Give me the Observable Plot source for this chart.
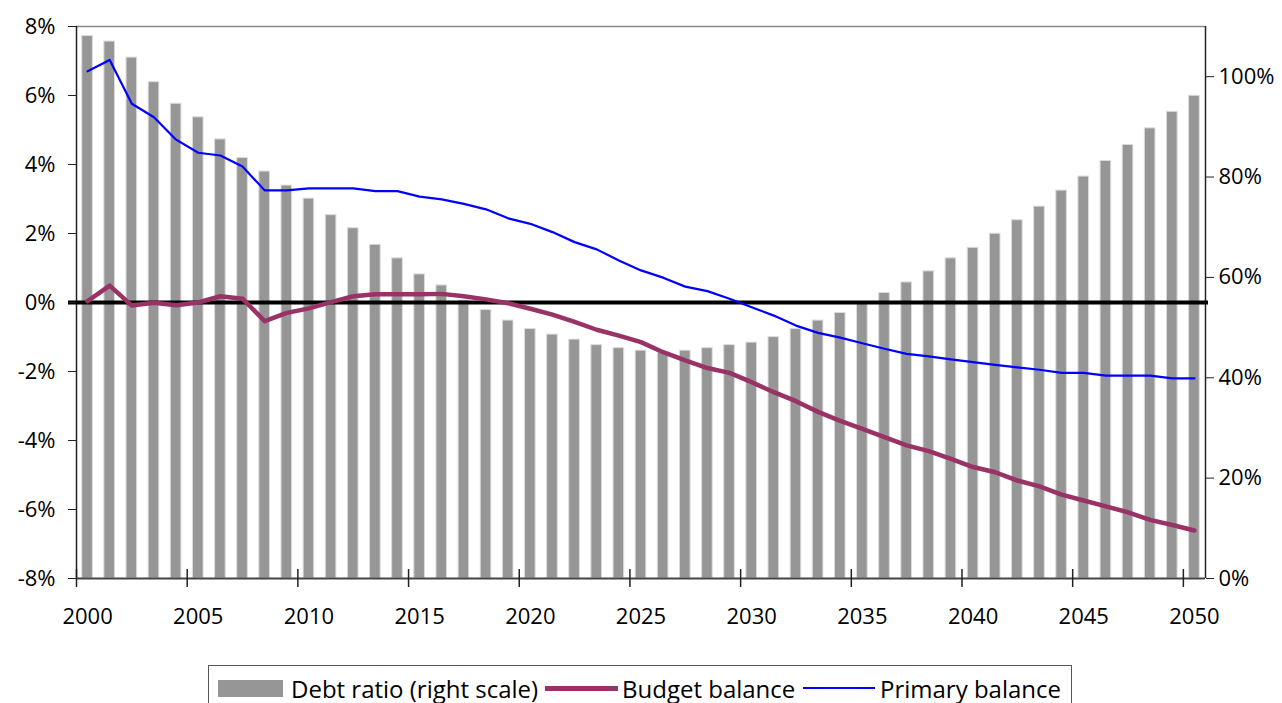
<!DOCTYPE html>
<html>
<head>
<meta charset="utf-8">
<script src="https://cdn.jsdelivr.net/npm/d3@7"></script>
<script src="https://cdn.jsdelivr.net/npm/@observablehq/plot@0.6"></script>
<style>
  html, body { margin: 0; padding: 0; background: #fff; overflow: hidden; }
  body { font-family: "Open Sans", "Noto Sans", sans-serif; width: 1282px; height: 703px; position: relative; }
  #chart { position: absolute; left: 0; top: 0; }
  #legend { position: absolute; left: 208px; top: 665px; width: 864px; height: 60px; border: 1px solid #555; box-sizing: border-box; font-size: 24px; color: #000; }
  .item { position: absolute; top: 9px; display: flex; align-items: center; height: 26px; white-space: nowrap; }
  .sw { display: inline-block; }
</style>
</head>
<body>
<div id="chart"></div>
<div id="legend">
  <div class="item" style="left:9px"><span class="sw" style="width:65px;height:17px;background:#969696;margin-right:8px"></span><span>Debt ratio (right scale)</span></div>
  <div class="item" style="left:336px"><span class="sw" style="width:73px;height:5px;background:#993366;margin-right:4px"></span><span>Budget balance</span></div>
  <div class="item" style="left:594px"><span class="sw" style="width:72px;height:2px;background:#0000ff;margin-right:5px"></span><span>Primary balance</span></div>
</div>
<script>
const years = d3.range(2000, 2051);
const debtRatio = [108.1,107.0,103.8,98.9,94.6,91.9,87.5,83.8,81.1,78.3,75.7,72.4,69.8,66.5,63.8,60.6,58.4,55.4,53.5,51.4,49.7,48.6,47.6,46.5,45.9,45.4,45.0,45.4,45.9,46.5,47.0,48.1,49.7,51.4,52.9,54.7,56.9,59.0,61.2,63.8,65.9,68.7,71.4,74.1,77.3,80.1,83.2,86.4,89.7,93.0,96.2];
const budgetBalance = [0.04,0.49,-0.09,-0.01,-0.08,0.0,0.18,0.11,-0.54,-0.30,-0.17,0.01,0.18,0.24,0.24,0.24,0.25,0.18,0.09,-0.02,-0.18,-0.35,-0.56,-0.79,-0.96,-1.15,-1.44,-1.68,-1.90,-2.04,-2.31,-2.60,-2.86,-3.17,-3.43,-3.66,-3.90,-4.14,-4.31,-4.53,-4.77,-4.92,-5.16,-5.33,-5.57,-5.74,-5.91,-6.08,-6.30,-6.45,-6.61];
const primaryBalance = [6.70,7.03,5.76,5.37,4.72,4.34,4.26,3.94,3.25,3.25,3.31,3.31,3.31,3.23,3.23,3.07,2.99,2.86,2.70,2.44,2.28,2.04,1.75,1.54,1.22,0.93,0.72,0.46,0.33,0.11,-0.14,-0.38,-0.67,-0.88,-1.02,-1.18,-1.34,-1.49,-1.56,-1.65,-1.73,-1.81,-1.88,-1.95,-2.04,-2.04,-2.12,-2.12,-2.12,-2.20,-2.20];
const leftTicks = [-8,-6,-4,-2,0,2,4,6,8];
const rightTicks = [0,20,40,60,80,100];
const xLabels = [2000,2005,2010,2015,2020,2025,2030,2035,2040,2045,2050];

const leftMin = -8, leftMax = 8, rightMax = 110;
const toLeft = v => leftMin + v / rightMax * (leftMax - leftMin);
const toRight = d => (d - leftMin) / (leftMax - leftMin) * rightMax;

const data = years.map((year, i) => ({year, debt: debtRatio[i], budget: budgetBalance[i], primary: primaryBalance[i]}));
const boundaries = xLabels.map(y => y - 0.5);

const chart = Plot.plot({
  width: 1282,
  height: 650,
  marginLeft: 76,
  marginRight: 77,
  marginTop: 26,
  marginBottom: 72,
  style: {fontFamily: "'Open Sans', 'Noto Sans', sans-serif", fontSize: "22px", color: "#000", background: "#fff"},
  x: {type: "linear", domain: [1999.5, 2050.5]},
  y: {domain: [leftMin, leftMax]},
  marks: [
    Plot.rectY(data, {x1: d => d.year - 0.24, x2: d => d.year + 0.24, y1: leftMin, y2: d => toLeft(d.debt), fill: "#969696", stroke: "#dcdcdc", strokeWidth: 1}),
    Plot.ruleY([leftMax], {stroke: "#888", strokeWidth: 1.5}),
    Plot.ruleY([leftMin], {stroke: "#444", strokeWidth: 2}),
    Plot.ruleX([1999.5, 2050.5], {stroke: "#222", strokeWidth: 1.5}),
    Plot.ruleX(boundaries, {y1: leftMin, y2: leftMin, insetTop: -9, insetBottom: -9, stroke: "#222", strokeWidth: 1.5}),
    Plot.ruleY([0], {stroke: "#000", strokeWidth: 4, insetLeft: -8, insetRight: -3}),
    Plot.line(data, {x: "year", y: "primary", stroke: "#0000ff", strokeWidth: 2.2}),
    Plot.line(data, {x: "year", y: "budget", stroke: "#993366", strokeWidth: 4.5, strokeLinejoin: "round"}),
    Plot.axisY({anchor: "left", ticks: leftTicks, tickFormat: d => d + "%", tickSize: 8, tickPadding: 13, stroke: "#222", label: null}),
    Plot.axisY({anchor: "right", ticks: rightTicks.map(toLeft), tickFormat: d => Math.round(toRight(d)) + "%", tickSize: 8, tickPadding: 5, stroke: "#222", label: null}),
    Plot.axisX({anchor: "bottom", ticks: xLabels, tickFormat: d => String(d), tickSize: 0, tickPadding: 30, label: null})
  ]
});
document.getElementById("chart").appendChild(chart);
</script>
</body>
</html>
